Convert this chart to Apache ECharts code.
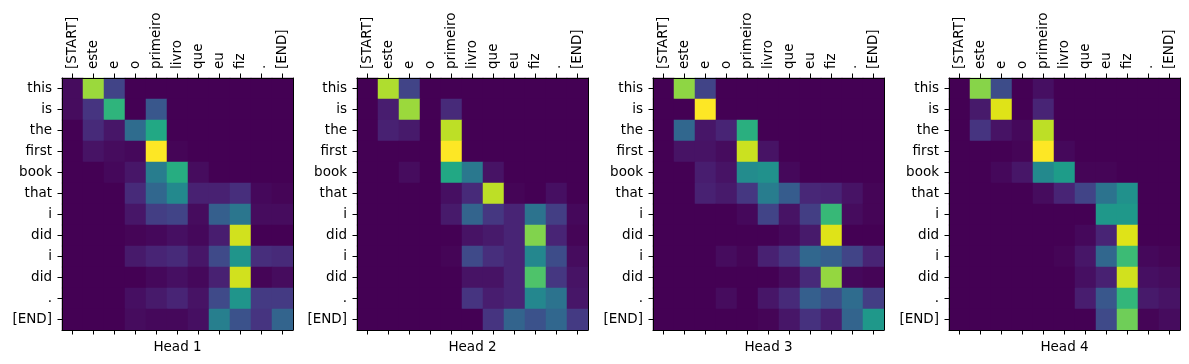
<!DOCTYPE html>
<html>
<head>
<meta charset="utf-8">
<script src="https://cdn.jsdelivr.net/npm/echarts@6/dist/echarts.min.js"></script>
<style>html,body{margin:0;padding:0;background:#fff}#c{width:1189px;height:364px}</style>
</head>
<body>
<div id="c"></div>
<script>
const colLabels = ['[START]','este','e','o','primeiro','livro','que','eu','fiz','.','[END]'];
const rowLabels = ['this','is','the','first','book','that','i','did','i','did','.','[END]'];
const headTitles = ['Head 1','Head 2','Head 3','Head 4'];

const head1 = [
 [0.03,0.85,0.20,0,0,0,0,0,0,0,0],
 [0.03,0.15,0.65,0,0.27,0,0,0,0,0,0],
 [0,0.12,0.06,0.35,0.60,0,0,0,0,0,0],
 [0,0.05,0.03,0.02,1.00,0.01,0,0,0,0,0],
 [0,0,0.02,0.06,0.42,0.62,0.03,0,0,0,0],
 [0,0,0,0.12,0.33,0.47,0.09,0.09,0.13,0.02,0.01],
 [0,0,0,0.06,0.18,0.20,0.03,0.30,0.39,0.03,0.03],
 [0,0,0,0.01,0.02,0.04,0.02,0.08,0.93,0,0],
 [0,0,0,0.07,0.10,0.12,0.06,0.22,0.52,0.13,0.12],
 [0,0,0,0,0.02,0.04,0.02,0.09,0.93,0.01,0.03],
 [0,0,0,0.04,0.07,0.10,0.05,0.22,0.52,0.17,0.17],
 [0,0,0,0.03,0.02,0.02,0.04,0.43,0.25,0.15,0.32]
];
const head2 = [
 [0,0.88,0.20,0,0,0,0,0,0,0,0],
 [0,0.08,0.85,0,0.12,0,0,0,0,0,0],
 [0,0.09,0.07,0,0.90,0,0,0,0,0,0],
 [0,0,0,0,1.00,0,0,0,0,0,0],
 [0,0,0.03,0,0.60,0.40,0.05,0,0,0,0],
 [0,0,0,0,0.04,0.12,0.90,0.01,0,0.04,0],
 [0,0,0,0,0.07,0.32,0.16,0.10,0.38,0.18,0.02],
 [0,0,0,0,0,0.05,0.07,0.10,0.81,0.10,0.01],
 [0,0,0,0,0.01,0.22,0.13,0.10,0.46,0.23,0.03],
 [0,0,0,0,0,0.05,0.05,0.10,0.72,0.16,0.05],
 [0,0,0,0,0,0.15,0.08,0.10,0.46,0.38,0.06],
 [0,0,0,0,0,0,0.15,0.32,0.25,0.33,0.17]
];
const head3 = [
 [0,0.83,0.20,0,0,0,0,0,0,0,0],
 [0,0,1.00,0,0,0,0,0,0,0,0],
 [0,0.33,0.06,0.10,0.63,0,0,0,0,0,0],
 [0,0.05,0.05,0.03,0.92,0.05,0,0,0,0,0],
 [0,0,0.08,0.05,0.48,0.50,0.02,0,0,0,0],
 [0,0,0.09,0.07,0.16,0.42,0.29,0.11,0.10,0.05,0.01],
 [0,0,0,0,0.02,0.20,0.05,0.18,0.67,0.03,0.01],
 [0,0,0,0,0,0,0.02,0.07,0.95,0,0],
 [0,0,0,0.03,0.01,0.09,0.15,0.33,0.30,0.20,0.10],
 [0,0,0,0,0,0,0.03,0.12,0.84,0.02,0.01],
 [0,0,0,0.03,0,0.06,0.12,0.30,0.23,0.35,0.18],
 [0,0,0,0,0,0.01,0.06,0.14,0.08,0.32,0.53]
];
const head4 = [
 [0,0.82,0.23,0,0.04,0,0,0,0,0,0],
 [0,0.07,0.95,0,0.10,0,0,0,0,0,0],
 [0,0.15,0.05,0.02,0.90,0,0,0,0,0,0],
 [0,0,0,0.01,1.00,0.02,0,0,0,0,0],
 [0,0,0.02,0.06,0.47,0.55,0.01,0.01,0,0,0],
 [0,0,0,0,0.03,0.10,0.20,0.38,0.50,0,0],
 [0,0,0,0,0,0,0,0.53,0.53,0,0],
 [0,0,0,0,0,0,0.02,0.10,0.95,0,0],
 [0,0,0,0,0,0.01,0.06,0.33,0.68,0.02,0.01],
 [0,0,0,0,0,0,0.04,0.09,0.93,0.04,0.03],
 [0,0,0,0,0,0,0.08,0.27,0.66,0.07,0.05],
 [0,0,0,0,0,0,0,0.22,0.78,0.01,0.03]
];
const heads = [head1, head2, head3, head4];

const viridis = ['#440154','#471365','#482475','#463480','#414487','#3b528b','#355f8d','#2f6c8e','#2a788e','#25848e','#21918c','#1e9c89','#22a884','#2fb47c','#44bf70','#5ec962','#7ad151','#9bd93c','#bddf26','#dfe318','#fde725'];

const lefts = [62, 357, 653, 949];
const FONT = 'DejaVu Sans';
const FS = 13.5;
const grids = [], xAxes = [], yAxes = [], series = [];
const rowIdx = rowLabels.map((_, i) => String(i));
const colIdx = colLabels.map((_, i) => String(i));
heads.forEach((m, h) => {
  grids.push({left: lefts[h], top: 78, width: 231, height: 252, containLabel: false});
  const axLine = {show: true, lineStyle: {color: '#000', width: 1}};
  const tick = {show: true, alignWithLabel: true, length: 4.5, lineStyle: {color: '#000', width: 1}};
  xAxes.push({
    type: 'category', gridIndex: h, position: 'top', data: colIdx, z: 5,
    axisLine: axLine, axisTick: tick, splitLine: {show: false},
    axisLabel: {rotate: -90, interval: 0, margin: 9, color: '#000', fontFamily: FONT, fontSize: FS,
      formatter: (v) => colLabels[+v]}
  });
  xAxes.push({
    type: 'category', gridIndex: h, position: 'bottom', data: colIdx, z: 5,
    axisLine: axLine, axisTick: tick, splitLine: {show: false},
    axisLabel: {show: false},
    name: headTitles[h], nameLocation: 'middle', nameGap: 10,
    nameTextStyle: {color: '#000', fontFamily: FONT, fontSize: FS, verticalAlign: 'top'}
  });
  yAxes.push({
    type: 'category', gridIndex: h, position: 'left', inverse: true, data: rowIdx, z: 5,
    axisLine: axLine, axisTick: tick, splitLine: {show: false},
    axisLabel: {interval: 0, margin: 10, color: '#000', fontFamily: FONT, fontSize: FS,
      formatter: (v) => rowLabels[+v]}
  });
  yAxes.push({
    type: 'category', gridIndex: h, position: 'right', inverse: true, data: rowIdx, z: 5,
    axisLine: axLine, axisTick: {show: false}, axisLabel: {show: false}, splitLine: {show: false}
  });
  const data = [];
  m.forEach((row, r) => row.forEach((v, c) => data.push([c, r, v])));
  series.push({
    type: 'heatmap', xAxisIndex: 2 * h, yAxisIndex: 2 * h, data: data,
    itemStyle: {borderWidth: 0}, emphasis: {disabled: true}, progressive: 0
  });
});

const chart = echarts.init(document.getElementById('c'), null, {renderer: 'canvas'});
chart.setOption({
  animation: false,
  backgroundColor: '#fff',
  grid: grids, xAxis: xAxes, yAxis: yAxes,
  visualMap: {show: false, type: 'continuous', min: 0, max: 1, dimension: 2,
    seriesIndex: [0, 1, 2, 3], inRange: {color: viridis}},
  series: series
});
</script>
</body>
</html>
